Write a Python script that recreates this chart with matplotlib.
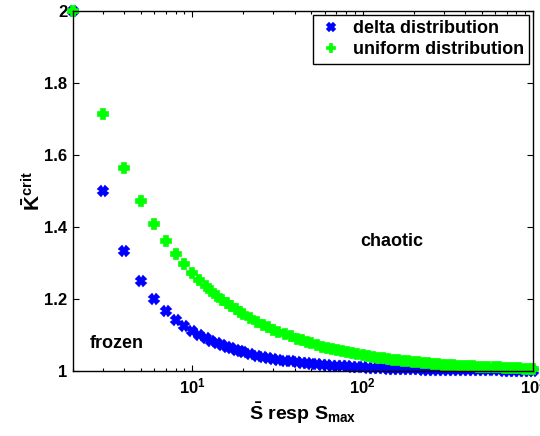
import matplotlib
matplotlib.use("Agg")
import matplotlib.pyplot as plt
from matplotlib.ticker import FormatStrFormatter, LogLocator

plt.rcParams['font.family'] = ['Liberation Sans', 'DejaVu Sans']
plt.rcParams['mathtext.fontset'] = 'custom'
plt.rcParams['mathtext.rm'] = 'Liberation Sans:bold'
plt.rcParams['mathtext.it'] = 'Liberation Sans:bold'
plt.rcParams['mathtext.bf'] = 'Liberation Sans:bold'

# S (delta: mean in-degree; uniform: S_max)
S = [2, 3, 4, 5, 6, 7, 8, 9, 10, 11, 12, 13, 14, 15, 16, 17, 18, 19, 20,
     22, 24, 26, 28, 30, 32, 35, 38, 41, 44, 47, 50, 54, 58, 62, 66, 71, 76,
     81, 87, 93, 100, 107, 115, 123, 132, 141, 151, 162, 173, 185, 198, 212,
     227, 243, 260, 278, 298, 319, 341, 365, 391, 418, 447, 479, 512, 548,
     587, 628, 672, 719, 769, 823, 881, 943, 1000]

K_delta = [2.0, 1.5, 1.333, 1.25, 1.2, 1.167, 1.143, 1.125, 1.111, 1.1, 1.091,
           1.083, 1.077, 1.071, 1.067, 1.063, 1.059, 1.056, 1.053,
           1.048, 1.043, 1.04, 1.037, 1.034, 1.032, 1.029, 1.027, 1.025, 1.023,
           1.022, 1.020, 1.019, 1.018, 1.016, 1.015, 1.014, 1.013, 1.013, 1.012,
           1.011, 1.010, 1.009, 1.009, 1.008, 1.008, 1.007, 1.007, 1.006, 1.006,
           1.005, 1.005, 1.005, 1.004, 1.004, 1.004, 1.004, 1.003, 1.003, 1.003,
           1.003, 1.003, 1.002, 1.002, 1.002, 1.002, 1.002, 1.002, 1.002, 1.001,
           1.001, 1.001, 1.001, 1.001, 1.001, 1.001]

K_uniform = [2.0, 1.714, 1.565, 1.472, 1.408, 1.361, 1.325, 1.296, 1.273, 1.253,
             1.236, 1.222, 1.209, 1.198, 1.189, 1.180, 1.172, 1.165, 1.158,
             1.147, 1.137, 1.129, 1.122, 1.115, 1.109, 1.102, 1.096, 1.090, 1.085,
             1.081, 1.077, 1.072, 1.068, 1.065, 1.062, 1.058, 1.055, 1.052, 1.049,
             1.047, 1.044, 1.042, 1.039, 1.037, 1.035, 1.033, 1.032, 1.030, 1.028,
             1.027, 1.025, 1.024, 1.023, 1.021, 1.020, 1.019, 1.018, 1.017, 1.016,
             1.015, 1.014, 1.014, 1.013, 1.012, 1.012, 1.011, 1.010, 1.010, 1.009,
             1.009, 1.008, 1.008, 1.007, 1.007, 1.007]

y_ticks = [1, 1.2, 1.4, 1.6, 1.8, 2]

fig = plt.figure(figsize=(5.4, 4.36), dpi=100)
ax = fig.add_axes([0.135, 0.149, 0.852, 0.826])

ax.plot(S, K_delta, linestyle='none', marker='X', color='#0000ff',
        markersize=7, markeredgewidth=1.2, markeredgecolor='#0000ff',
        clip_on=False, label='delta distribution')
ax.plot(S, K_uniform, linestyle='none', marker='P', color='#00ff00',
        markersize=7, markeredgewidth=1.2, markeredgecolor='#00ff00',
        clip_on=False, label='uniform distribution')

ax.set_xscale('log')
ax.set_xlim(2, 1000)
ax.set_ylim(1, 2)
ax.set_yticks(y_ticks)
ax.yaxis.set_major_formatter(FormatStrFormatter('%g'))
ax.xaxis.set_major_locator(LogLocator(base=10, numticks=10))
ax.xaxis.set_minor_locator(LogLocator(base=10, subs=range(2, 10), numticks=20))

ax.tick_params(which='both', direction='in', top=True, right=True,
               labelsize=12, width=0.8, pad=4)
ax.tick_params(which='major', length=4)
ax.tick_params(which='minor', length=2.5)
for lab in ax.get_xticklabels() + ax.get_yticklabels():
    lab.set_fontweight('bold')
for sp in ax.spines.values():
    sp.set_linewidth(1.0)

ax.set_xlabel(r'$\bar{\mathrm{S}}$ resp S$_\mathbf{max}$', fontsize=14,
              fontweight='bold', labelpad=3)
ax.set_ylabel(r'$\bar{\mathrm{K}}^{\mathrm{crit}}$', fontsize=15,
              fontweight='bold', labelpad=0)

ax.text(0.693, 0.359, 'chaotic', transform=ax.transAxes, fontsize=13,
        fontweight='bold', ha='center', va='center')
ax.text(0.095, 0.077, 'frozen', transform=ax.transAxes, fontsize=13,
        fontweight='bold', ha='center', va='center')

leg = ax.legend(loc='upper right', frameon=True, fancybox=False,
                framealpha=1, edgecolor='black', handletextpad=0.5,
                borderpad=0.3, labelspacing=0.25, handlelength=1.4,
                markerscale=0.8, borderaxespad=0.2,
                prop={'weight': 'bold', 'size': 13})
leg.get_frame().set_linewidth(1.0)

fig.savefig('out.png', dpi=100)
